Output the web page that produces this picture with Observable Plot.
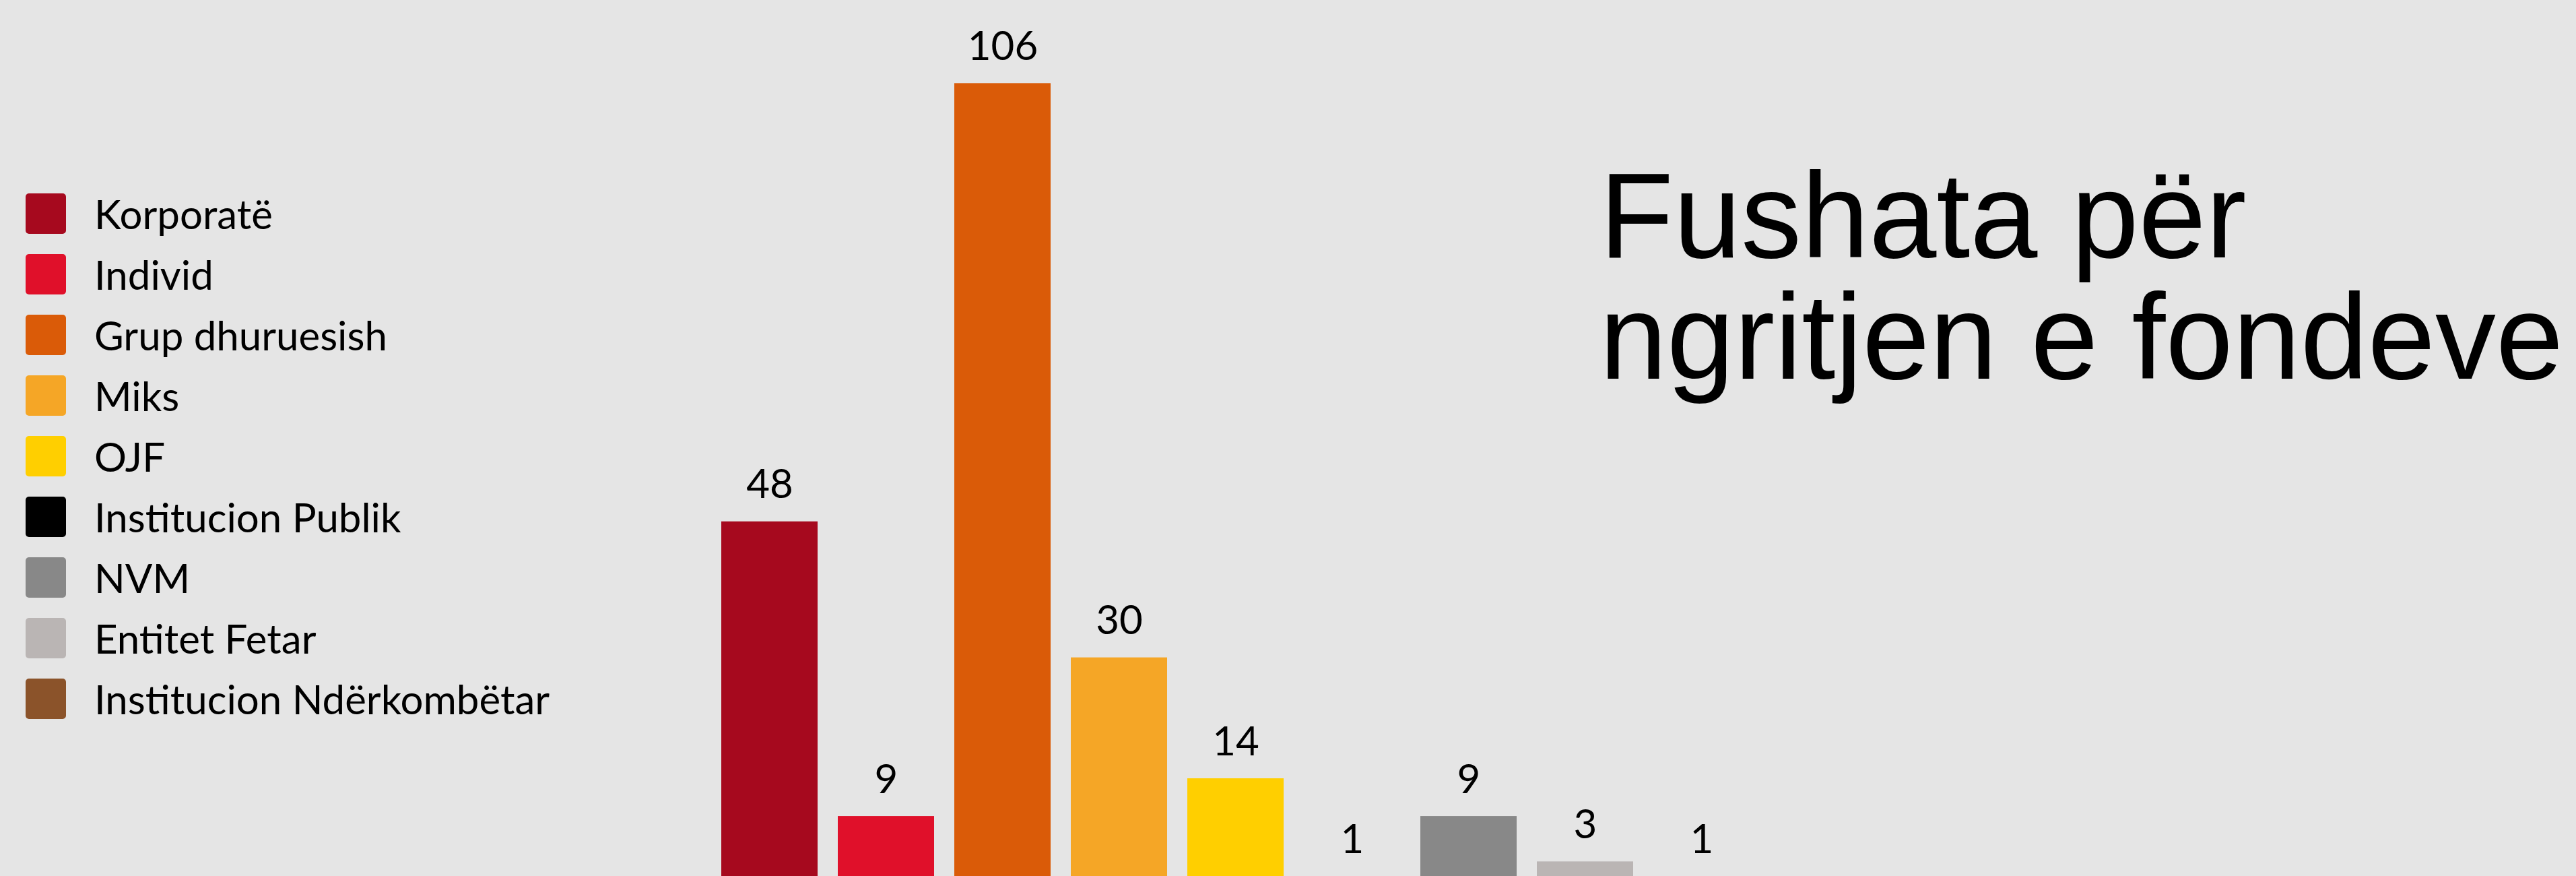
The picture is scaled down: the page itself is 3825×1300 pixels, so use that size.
<!DOCTYPE html>
<html>
<head>
<meta charset="utf-8">
<script src="https://cdn.jsdelivr.net/npm/d3@7"></script>
<script src="https://cdn.jsdelivr.net/npm/@observablehq/plot@0.6"></script>
<style>
  html, body { margin: 0; padding: 0; background: #e5e5e5; overflow: hidden; }
  #wrap { position: relative; width: 3825px; height: 1300px; background: #e5e5e5; overflow: hidden; }
  #chart { position: absolute; left: 0; top: 0; }
  #legend { position: absolute; left: 38px; top: 272px; font-family: Lato, sans-serif; font-size: 60px; color: #000; }
  .row { display: flex; align-items: center; height: 90px; line-height: 90px; white-space: nowrap; }
  .sw { width: 60px; height: 60px; border-radius: 5px; margin-right: 42px; flex: none; }
  #title { position: absolute; left: 2375px; top: 230px; font-family: "Liberation Sans", Arial, sans-serif; font-size: 180px; line-height: 180px; color: #000; white-space: nowrap; }
</style>
</head>
<body>
<div id="wrap">
  <div id="chart"></div>
  <div id="legend"></div>
  <div id="title">Fushata për<br>ngritjen e fondeve</div>
</div>
<script>
const categories = ["Korporatë", "Individ", "Grup dhuruesish", "Miks", "OJF", "Institucion Publik", "NVM", "Entitet Fetar", "Institucion Ndërkombëtar"];
const legendLabels = ["Korporatë", "Individ", "Grup dhuruesish", "Miks", "OJF", "Institucion Publik", "NVM", "Entitet Fetar", "Institucion Ndërkombëtar"];
const values = [48, 9, 106, 30, 14, 1, 9, 3, 1];
const colors = ["#a6091e", "#e0102a", "#da5b08", "#f5a626", "#ffcf00", "#000000", "#888888", "#bab5b4", "#8b532a"];

const data = categories.map((c, i) => ({cat: c, value: values[i]}));

const plot = Plot.plot({
  width: 3825,
  height: 1300,
  marginTop: 0,
  marginBottom: 0,
  marginLeft: 1038,
  marginRight: 1193,
  style: {background: "transparent", overflow: "visible"},
  x: {domain: categories, padding: 0.171, axis: null},
  y: {domain: [0, 117], range: [1312, 0], axis: null},
  color: {domain: categories, range: colors},
  marks: [
    Plot.barY(data, {x: "cat", y: "value", fill: "cat"}),
    Plot.text(data, {
      x: "cat", y: "value", text: d => String(d.value),
      lineAnchor: "bottom", dy: -35,
      fontSize: 60, fontFamily: "Lato, sans-serif", fill: "#000"
    })
  ]
});
document.getElementById("chart").appendChild(plot);

const legend = document.getElementById("legend");
legendLabels.forEach((label, i) => {
  const row = document.createElement("div");
  row.className = "row";
  const sw = document.createElement("div");
  sw.className = "sw";
  sw.style.background = colors[i];
  const t = document.createElement("span");
  t.textContent = label;
  row.appendChild(sw);
  row.appendChild(t);
  legend.appendChild(row);
});
</script>
</body>
</html>
